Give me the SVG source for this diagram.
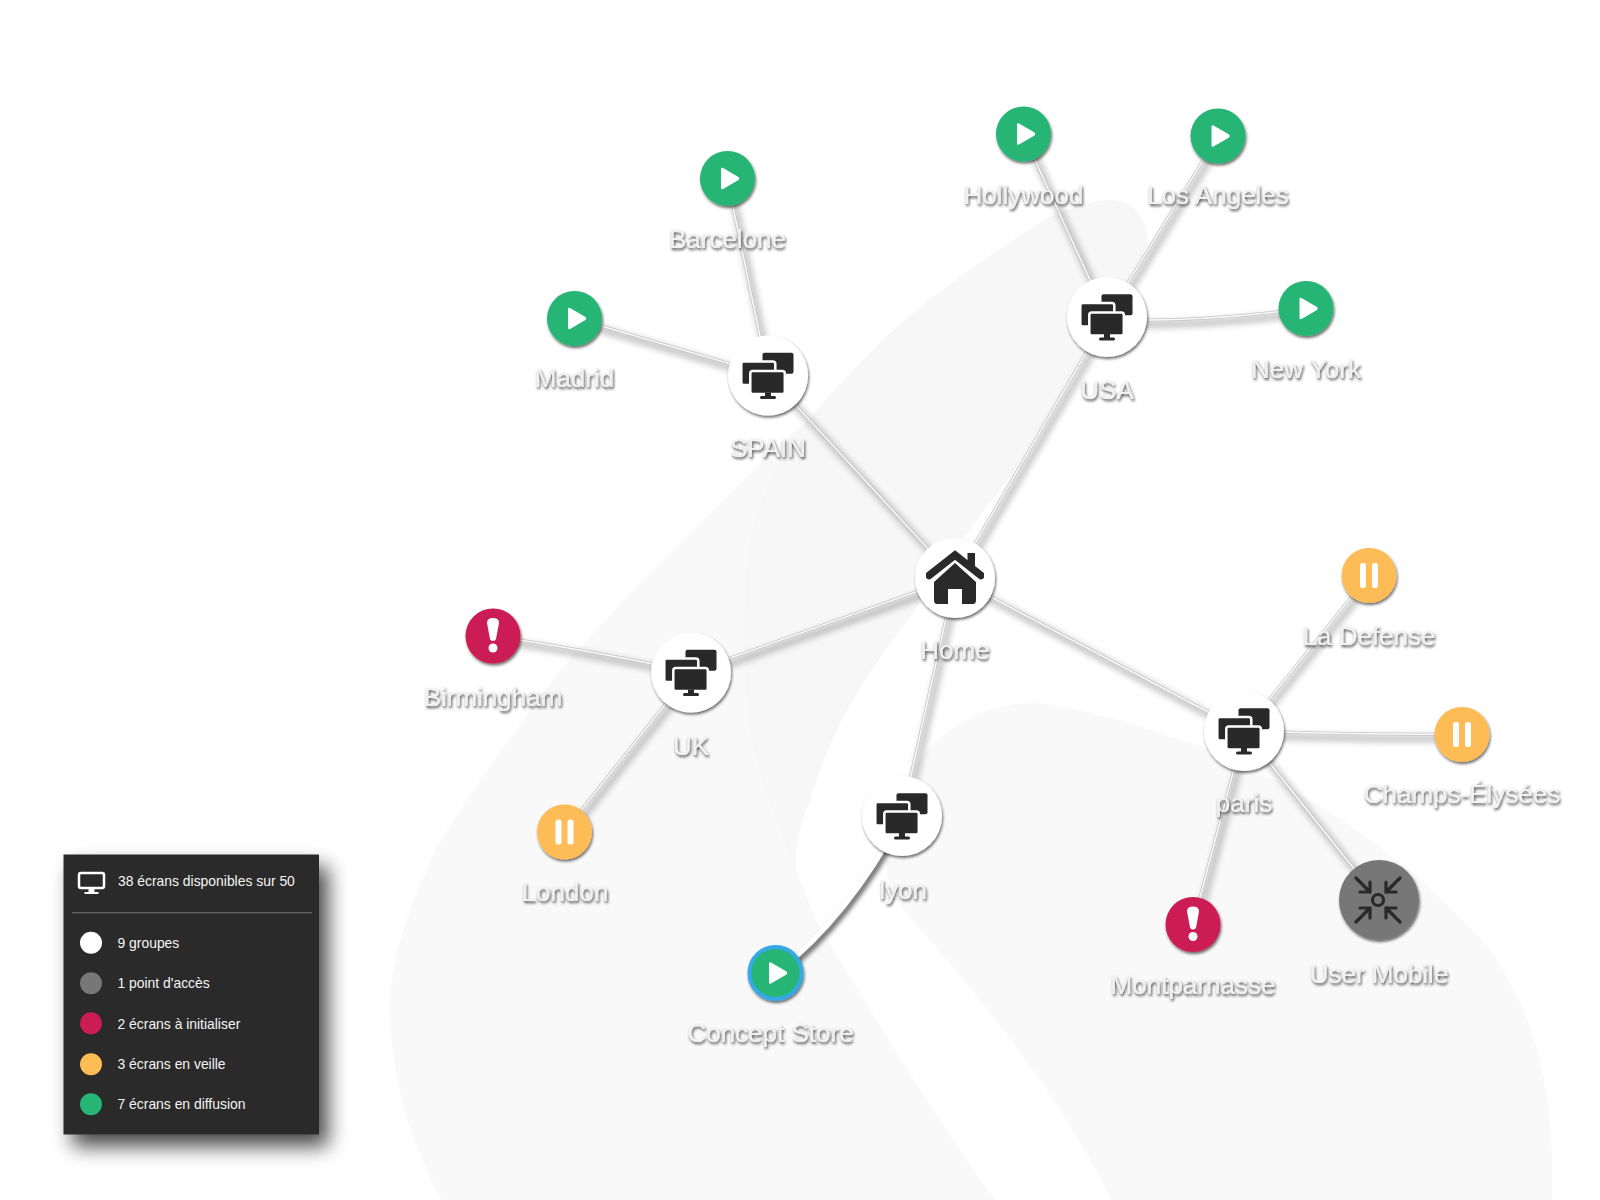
<svg xmlns="http://www.w3.org/2000/svg" xmlns:xlink="http://www.w3.org/1999/xlink" width="1600" height="1200" viewBox="0 0 1600 1200">
<style>
.bg{fill:#f9f9f9}
.bg2{fill:#f7f7f7}
.lbl{font-family:"Liberation Sans",Arial,sans-serif;font-size:26px;fill:#f1f1f1;text-anchor:middle;filter:url(#ts)}
.leg{font-family:"Liberation Sans",Arial,sans-serif;font-size:13.9px;fill:#f4f4f4}
.dk{fill:#292929}
.w{fill:#fff}
.grp{fill:#fff;filter:url(#ns)}
.play{fill:#26b574;filter:url(#ns)}
.pau{fill:#fdbc54;filter:url(#ns)}
.err{fill:#cb1c55;filter:url(#ns)}
</style>
<defs>
<filter id="ts" x="-20%" y="-40%" width="140%" height="190%"><feGaussianBlur in="SourceAlpha" stdDeviation="1.4"/><feOffset dx="1" dy="2"/><feComponentTransfer result="s"><feFuncA type="linear" slope="0.75"/></feComponentTransfer><feGaussianBlur in="SourceGraphic" stdDeviation="0.45" result="t"/><feMerge><feMergeNode in="s"/><feMergeNode in="t"/></feMerge></filter>
<filter id="ns" x="-30%" y="-30%" width="170%" height="170%"><feGaussianBlur in="SourceAlpha" stdDeviation="1.6"/><feOffset dx="1" dy="2"/><feComponentTransfer><feFuncA type="linear" slope="0.6"/></feComponentTransfer><feMerge><feMergeNode/><feMergeNode in="SourceGraphic"/></feMerge></filter>
<filter id="soft" x="-5%" y="-5%" width="110%" height="110%"><feGaussianBlur stdDeviation="0.4"/></filter>
<filter id="blur" filterUnits="userSpaceOnUse" x="0" y="0" width="1600" height="1200"><feGaussianBlur stdDeviation="3.5"/></filter>
<filter id="blur2" filterUnits="userSpaceOnUse" x="0" y="0" width="1600" height="1200"><feGaussianBlur stdDeviation="2.5"/></filter>
<filter id="ls" x="-20%" y="-20%" width="150%" height="150%"><feGaussianBlur in="SourceAlpha" stdDeviation="10"/><feOffset dx="9" dy="12"/><feComponentTransfer><feFuncA type="linear" slope="0.72"/></feComponentTransfer><feMerge><feMergeNode/><feMergeNode in="SourceGraphic"/></feMerge></filter>
<g id="edges" fill="none" stroke-linecap="round">
<path d="M955 578L768 375"/>
<path d="M955 578L1107 317"/>
<path d="M955 578L691 672"/>
<path d="M955 578L902 816"/>
<path d="M955 578L1244 731"/>
<path d="M768 375L727 178"/>
<path d="M768 375L574 318"/>
<path d="M1107 317L1023 134"/>
<path d="M1107 317L1218 136"/>
<path d="M1107 320Q1210 322 1306 308"/>
<path d="M691 672Q590 650 493 636"/>
<path d="M691 672L564 832"/>
<path d="M1244 731L1369 575"/>
<path d="M1244 731Q1360 735 1462 734"/>
<path d="M1244 731L1193 924"/>
<path d="M1244 731L1379 900"/>
</g>
<g id="monitors">
<rect class="dk" x="-5.500" y="-22.700" width="31" height="21" rx="2"/>
<rect class="dk" x="-26.700" y="-14" width="34" height="23.500" rx="2.500" stroke="#fff" stroke-width="2.500"/>
<rect class="dk" x="-17.700" y="-4.500" width="34.500" height="23" rx="2.500" stroke="#fff" stroke-width="2.500"/>
<rect class="dk" x="-3" y="17" width="6" height="4"/>
<rect class="dk" x="-8" y="20.500" width="16" height="3" rx="1.500"/>
</g>
<path id="tri" class="w" d="M-6.500-9.500Q-6.500-11.500-4.500-10.500L11-1.500Q12.500 0 11 1.500L-4.500 10.500Q-6.500 11.500-6.500 9.500Z"/>
<g id="pause"><rect class="w" x="-9" y="-12.500" width="6" height="25" rx="2.500"/><rect class="w" x="3" y="-12.500" width="6" height="25" rx="2.500"/></g>
<g id="bang"><path class="w" d="M-6-13Q-6-18 0-18Q6-18 6-13L3 3Q2.500 5 0 5Q-2.500 5-3 3Z"/><circle class="w" cx="0" cy="12" r="4.500"/></g>
</defs>
<rect width="1600" height="1200" fill="#fff"/>
<g id="background">
<path class="bg" d="M1110 200C1085 201 1060 212 1050 217C1000 247 960 277 933 297C890 330 855 380 817 413C770 450 735 488 700 523C640 585 590 630 540 697C490 765 465 800 437 847C405 915 390 960 390 1013C392 1090 415 1150 441 1200H995C930 1110 870 1010 816 920C790 880 790 850 810 800C825 750 845 710 865 680C885 650 900 630 917 607C935 580 950 555 967 533L1017 467L1075 370L1147 247C1150 220 1132 199 1110 200Z"/>
<path class="bg2" d="M1110 200C1085 201 1060 212 1050 217C1000 247 960 277 933 297C890 330 850 370 800 430C765 480 745 530 745 600C743 650 745 690 750 730C757 770 772 813 816 920C790 880 790 850 810 800C825 750 845 710 865 680C885 650 900 630 917 607C935 580 950 555 967 533L1017 467L1075 370L1147 247C1150 220 1132 199 1110 200Z"/>
<path class="bg" d="M1040 703C1010 702 970 712 941 737C905 770 885 810 885 850C885 875 890 890 901 907C950 965 1040 1060 1112 1200H1552C1556 1080 1530 1000 1480 937C1350 800 1200 730 1040 703Z"/>
</g>
<g id="connectors">
<use xlink:href="#edges" href="#edges" stroke="#000" stroke-opacity="0.4" stroke-width="4" transform="translate(3.500 4.500)" filter="url(#blur)"/>
<path d="M902 816Q848 918 776 973" fill="none" stroke="#000" stroke-opacity="0.7" stroke-width="5" transform="translate(3 3)" filter="url(#blur2)"/>
<use xlink:href="#edges" href="#edges" stroke="#c4c4c4" stroke-width="3"/>
<use xlink:href="#edges" href="#edges" stroke="#fafafa" stroke-width="1.500"/>
<path d="M902 816Q848 918 776 973" fill="none" stroke="#fff" stroke-width="5"/>
</g>
<g id="nodes">
<g id="n-home"><circle class="grp" cx="955" cy="578" r="40"/><g transform="translate(955 578)" filter="url(#soft)"><path class="dk" d="M12.500-25H20V-9L12.500-14Z"/><path d="M-26-2.500L0-23L26-2.500" fill="none" stroke="#292929" stroke-width="7.500" stroke-linecap="round"/><path class="dk" d="M-21 4L0-15L21 4V22Q21 26 18 26H7V11H-7V26H-18Q-21 26-21 22Z"/></g></g>
<g id="n-usa"><circle class="grp" cx="1107" cy="317" r="40"/><use xlink:href="#monitors" href="#monitors" x="1107" y="317"/></g>
<g id="n-spain"><circle class="grp" cx="768" cy="375.500" r="40"/><use xlink:href="#monitors" href="#monitors" x="768" y="375.500"/></g>
<g id="n-uk"><circle class="grp" cx="691" cy="672.500" r="40"/><use xlink:href="#monitors" href="#monitors" x="691" y="672.500"/></g>
<g id="n-lyon"><circle class="grp" cx="902" cy="816" r="40"/><use xlink:href="#monitors" href="#monitors" x="902" y="816"/></g>
<g id="n-paris"><circle class="grp" cx="1244" cy="731" r="40"/><use xlink:href="#monitors" href="#monitors" x="1244" y="731"/></g>
<g id="n-hollywood"><circle class="play" cx="1023.500" cy="134" r="27.500"/><use xlink:href="#tri" href="#tri" x="1023.500" y="134"/></g>
<g id="n-losangeles"><circle class="play" cx="1218" cy="136" r="27.500"/><use xlink:href="#tri" href="#tri" x="1218" y="136"/></g>
<g id="n-newyork"><circle class="play" cx="1306" cy="308.500" r="27.500"/><use xlink:href="#tri" href="#tri" x="1306" y="308.500"/></g>
<g id="n-barcelone"><circle class="play" cx="727.500" cy="178.500" r="27.500"/><use xlink:href="#tri" href="#tri" x="727.500" y="178.500"/></g>
<g id="n-madrid"><circle class="play" cx="574.500" cy="318.500" r="27.500"/><use xlink:href="#tri" href="#tri" x="574.500" y="318.500"/></g>
<g id="n-concept"><circle class="play" cx="775.500" cy="973" r="26" stroke="#35a8e6" stroke-width="4"/><use xlink:href="#tri" href="#tri" x="775.500" y="973"/></g>
<g id="n-birmingham"><circle class="err" cx="493" cy="636" r="27.500"/><use xlink:href="#bang" href="#bang" x="493" y="636"/></g>
<g id="n-montparnasse"><circle class="err" cx="1193" cy="924.500" r="27.500"/><use xlink:href="#bang" href="#bang" x="1193" y="924.500"/></g>
<g id="n-london"><circle class="pau" cx="564.500" cy="832" r="27.500"/><use xlink:href="#pause" href="#pause" x="564.500" y="832"/></g>
<g id="n-ladefense"><circle class="pau" cx="1369" cy="575.500" r="27.500"/><use xlink:href="#pause" href="#pause" x="1369" y="575.500"/></g>
<g id="n-champs"><circle class="pau" cx="1462" cy="734.500" r="27.500"/><use xlink:href="#pause" href="#pause" x="1462" y="734.500"/></g>
<g id="n-usermobile"><circle cx="1379" cy="900" r="40" fill="#777" filter="url(#ns)"/><g transform="translate(1378 900)" fill="none" stroke="#292929" stroke-width="3.200" stroke-linecap="round"><circle cx="0" cy="0" r="5.500"/><path d="M-22-22L-8-8M-8-18V-8H-18M22-22L8-8M8-18V-8H18M-22 22L-8 8M-8 18V8H-18M22 22L8 8M8 18V8H18"/></g></g>
</g>
<g id="labels">
<text class="lbl" x="1023.500" y="203.500">Hollywood</text>
<text class="lbl" x="1218" y="203.500">Los Angeles</text>
<text class="lbl" x="1306" y="378">New York</text>
<text class="lbl" x="1107" y="399">USA</text>
<text class="lbl" x="727.500" y="248">Barcelone</text>
<text class="lbl" x="574.500" y="387">Madrid</text>
<text class="lbl" x="768" y="457">SPAIN</text>
<text class="lbl" x="955" y="659">Home</text>
<text class="lbl" x="493" y="706">Birmingham</text>
<text class="lbl" x="691" y="755">UK</text>
<text class="lbl" x="565" y="901">London</text>
<text class="lbl" x="903" y="898.500">lyon</text>
<text class="lbl" x="770.500" y="1042">Concept Store</text>
<text class="lbl" x="1369" y="645">La Defense</text>
<text class="lbl" x="1462" y="803">Champs-Élysées</text>
<text class="lbl" x="1244" y="811.500">paris</text>
<text class="lbl" x="1193" y="993.500">Montparnasse</text>
<text class="lbl" x="1379" y="982.500">User Mobile</text>
</g>
<g id="legend">
<rect x="63.500" y="854.500" width="255.500" height="280" fill="#292929" filter="url(#ls)"/>
<rect x="79" y="873" width="25" height="15" rx="2" fill="none" stroke="#fff" stroke-width="2.500"/>
<rect x="88.500" y="889" width="6" height="3.500" fill="#fff"/><rect x="84.500" y="892" width="14" height="2" fill="#fff"/>
<text class="leg" x="118" y="886">38 écrans disponibles sur 50</text>
<line x1="72" y1="912.800" x2="312" y2="912.800" stroke="#777" stroke-width="1"/>
<circle cx="91" cy="942.700" r="11" fill="#fff"/><text class="leg" x="117.500" y="948">9 groupes</text>
<circle cx="91" cy="983.300" r="11" fill="#777"/><text class="leg" x="117.500" y="988">1 point d'accès</text>
<circle cx="91" cy="1023.300" r="11" fill="#cb1c55"/><text class="leg" x="117.500" y="1028.500">2 écrans à initialiser</text>
<circle cx="91" cy="1064.300" r="11" fill="#fdbc54"/><text class="leg" x="117.500" y="1069">3 écrans en veille</text>
<circle cx="91" cy="1104.300" r="11" fill="#26b574"/><text class="leg" x="117.500" y="1109">7 écrans en diffusion</text>
</g>
</svg>
